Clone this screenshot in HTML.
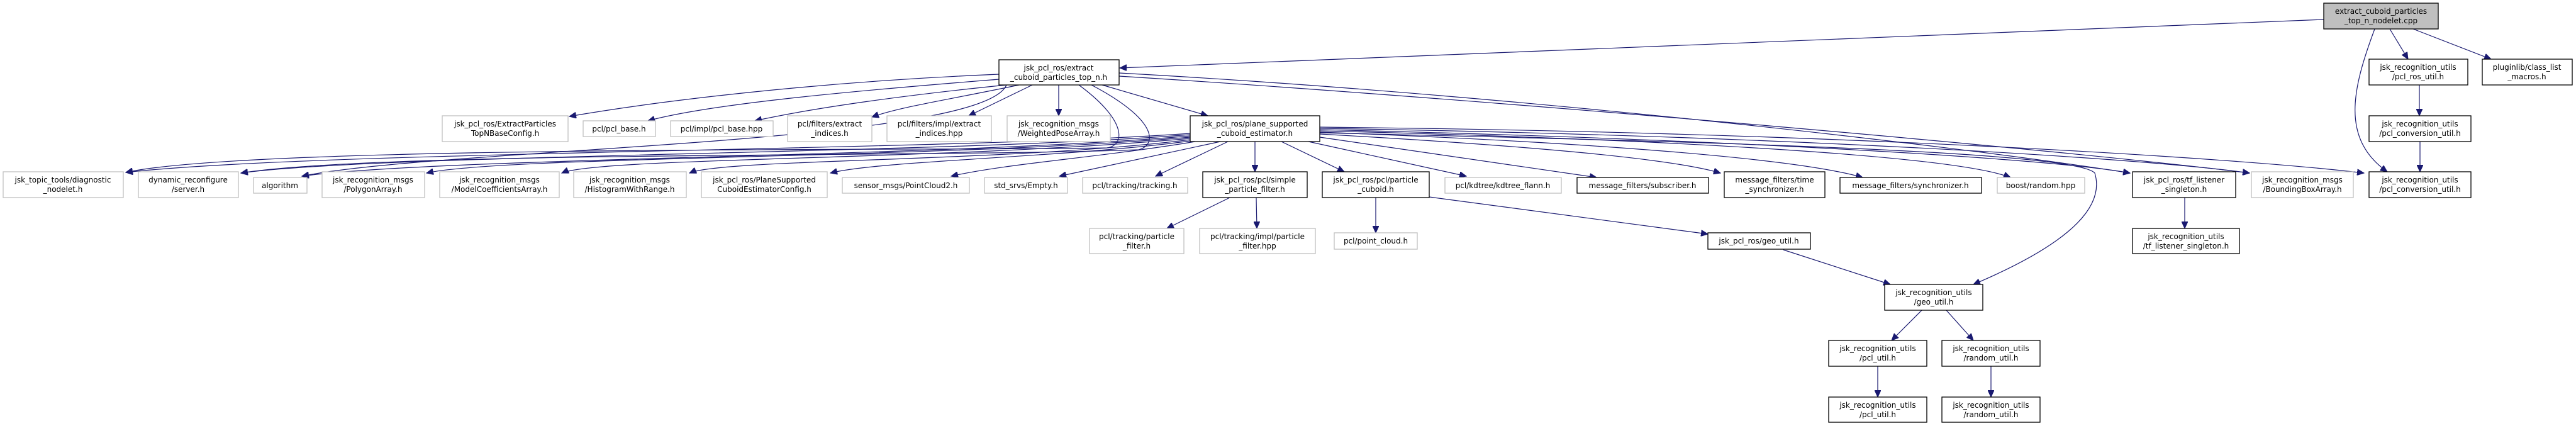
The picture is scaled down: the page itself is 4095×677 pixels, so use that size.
<!DOCTYPE html>
<html><head><meta charset="utf-8"><style>
html,body{margin:0;padding:0;background:#fff;}
svg{display:block;}
text{font-family:"DejaVu Sans","Liberation Sans",sans-serif;font-size:12px;fill:#000;text-anchor:middle;}
.b{fill:#fff;stroke:#000;stroke-width:1.3;}
.g{fill:#fff;stroke:#bfbfbf;stroke-width:1.3;}
.r{fill:#bfbfbf;stroke:#000;stroke-width:1.3;}
path.e{fill:none;stroke:#191970;stroke-width:1.2;}
</style></head><body>
<svg width="4095" height="677" viewBox="0 0 4095 677" xmlns="http://www.w3.org/2000/svg">
<defs><marker id="a" markerUnits="userSpaceOnUse" markerWidth="12" markerHeight="10" refX="11" refY="5" orient="auto"><path d="M0,0 L11,5 L0,10 z" fill="#191970" stroke="#191970"/></marker></defs>
<g marker-end="url(#a)">
<path class="e" d="M3694,31 L1780,108"/>
<path class="e" d="M3799,46 L3828,94"/>
<path class="e" d="M3836,46 L3960,94"/>
<path class="e" d="M3775,46 C3740,140 3720,220 3795,273"/>
<path class="e" d="M1588,118 C1300,130 1050,160 905,185"/>
<path class="e" d="M1588,126 C1350,145 1130,165 1030,192"/>
<path class="e" d="M1600,135 C1450,150 1300,170 1200,192"/>
<path class="e" d="M1620,135 C1500,160 1430,170 1386,186"/>
<path class="e" d="M1641,135 L1540,184"/>
<path class="e" d="M1683,135 L1683,184"/>
<path class="e" d="M1752,135 L1920,184"/>
<path class="e" d="M1715,135 C1790,190 1790,230 1760,235 C1500,240 400,230 200,274"/>
<path class="e" d="M1735,135 C1840,190 1840,230 1810,238 C1500,250 600,240 383,275"/>
<path class="e" d="M1600,135 C1560,230 700,235 480,280"/>
<path class="e" d="M1779,121 C2400,160 3300,240 3576,275"/>
<path class="e" d="M1779,116 C2400,150 3100,230 3386,275"/>
<path class="e" d="M1892,212 C1500,240 500,240 200,274"/>
<path class="e" d="M1892,214 C1500,245 600,245 383,275"/>
<path class="e" d="M1892,216 C1500,250 700,250 480,280"/>
<path class="e" d="M1892,218 C1500,252 800,248 678,275"/>
<path class="e" d="M1892,220 C1500,255 950,250 893,275"/>
<path class="e" d="M1892,222 C1600,258 1150,252 1096,275"/>
<path class="e" d="M1892,224 C1700,250 1400,255 1320,275"/>
<path class="e" d="M1900,225 C1750,250 1600,260 1512,280"/>
<path class="e" d="M1940,225 L1684,280"/>
<path class="e" d="M1952,225 L1837,280"/>
<path class="e" d="M1995,225 L1995,273"/>
<path class="e" d="M2037,225 L2137,273"/>
<path class="e" d="M2080,225 L2331,280"/>
<path class="e" d="M2098,218 L2538,282"/>
<path class="e" d="M2098,213 C2400,230 2650,250 2735,275"/>
<path class="e" d="M2098,210 C2500,225 2850,250 2961,282"/>
<path class="e" d="M2098,208 C2600,220 3100,245 3196,282"/>
<path class="e" d="M2098,206 C2700,220 3250,250 3386,275"/>
<path class="e" d="M2098,204 C2800,215 3400,250 3576,275"/>
<path class="e" d="M2098,202 C2900,210 3550,250 3758,275"/>
<path class="e" d="M2098,211 C2700,225 3300,240 3330,275 C3350,340 3260,400 3137,452"/>
<path class="e" d="M1955,314 L1855,363"/>
<path class="e" d="M1997,314 L1998,363"/>
<path class="e" d="M2187,314 L2187,370"/>
<path class="e" d="M2272,313 L2715,372"/>
<path class="e" d="M2835,397 L3005,452"/>
<path class="e" d="M3473,314 L3473,363"/>
<path class="e" d="M3846,135 L3846,184"/>
<path class="e" d="M3847,225 L3847,273"/>
<path class="e" d="M3055,493 L3007,541"/>
<path class="e" d="M3094,493 L3137,541"/>
<path class="e" d="M2985,582 L2985,631"/>
<path class="e" d="M3165,582 L3165,631"/>
</g>
<rect class="r" x="3694" y="5" width="182" height="41"/><text x="3785" y="22">extract_cuboid_particles</text><text x="3785" y="37">_top_n_nodelet.cpp</text>

<rect class="b" x="1588" y="95" width="191" height="40"/><text x="1683" y="112">jsk_pcl_ros/extract</text><text x="1683" y="127">_cuboid_particles_top_n.h</text>
<rect class="b" x="3766" y="94" width="157" height="41"/><text x="3844" y="111">jsk_recognition_utils</text><text x="3844" y="126">/pcl_ros_util.h</text>
<rect class="b" x="3946" y="94" width="143" height="41"/><text x="4017" y="111">pluginlib/class_list</text><text x="4017" y="126">_macros.h</text>

<rect class="g" x="703" y="184" width="200" height="41"/><text x="803" y="201">jsk_pcl_ros/ExtractParticles</text><text x="803" y="216">TopNBaseConfig.h</text>
<rect class="g" x="927" y="192" width="115" height="25"/><text x="984" y="209">pcl/pcl_base.h</text>
<rect class="g" x="1066" y="192" width="163" height="25"/><text x="1147" y="209">pcl/impl/pcl_base.hpp</text>
<rect class="g" x="1252" y="184" width="134" height="41"/><text x="1319" y="201">pcl/filters/extract</text><text x="1319" y="216">_indices.h</text>
<rect class="g" x="1410" y="184" width="166" height="41"/><text x="1493" y="201">pcl/filters/impl/extract</text><text x="1493" y="216">_indices.hpp</text>
<rect class="g" x="1601" y="184" width="164" height="41"/><text x="1683" y="201">jsk_recognition_msgs</text><text x="1683" y="216">/WeightedPoseArray.h</text>
<rect class="b" x="1892" y="184" width="206" height="41"/><text x="1995" y="201">jsk_pcl_ros/plane_supported</text><text x="1995" y="216">_cuboid_estimator.h</text>
<rect class="b" x="3766" y="184" width="162" height="41"/><text x="3847" y="201">jsk_recognition_utils</text><text x="3847" y="216">/pcl_conversion_util.h</text>

<rect class="g" x="5" y="273" width="191" height="41"/><text x="100" y="290">jsk_topic_tools/diagnostic</text><text x="100" y="305">_nodelet.h</text>
<rect class="g" x="220" y="273" width="159" height="41"/><text x="299" y="290">dynamic_reconfigure</text><text x="299" y="305">/server.h</text>
<rect class="g" x="403" y="282" width="85" height="25"/><text x="445" y="299">algorithm</text>
<rect class="g" x="512" y="273" width="163" height="41"/><text x="593" y="290">jsk_recognition_msgs</text><text x="593" y="305">/PolygonArray.h</text>
<rect class="g" x="699" y="273" width="190" height="41"/><text x="794" y="290">jsk_recognition_msgs</text><text x="794" y="305">/ModelCoefficientsArray.h</text>
<rect class="g" x="912" y="273" width="179" height="41"/><text x="1001" y="290">jsk_recognition_msgs</text><text x="1001" y="305">/HistogramWithRange.h</text>
<rect class="g" x="1115" y="273" width="200" height="41"/><text x="1215" y="290">jsk_pcl_ros/PlaneSupported</text><text x="1215" y="305">CuboidEstimatorConfig.h</text>
<rect class="g" x="1339" y="282" width="202" height="25"/><text x="1440" y="299">sensor_msgs/PointCloud2.h</text>
<rect class="g" x="1565" y="282" width="132" height="25"/><text x="1631" y="299">std_srvs/Empty.h</text>
<rect class="g" x="1721" y="282" width="167" height="25"/><text x="1804" y="299">pcl/tracking/tracking.h</text>
<rect class="b" x="1912" y="273" width="166" height="41"/><text x="1995" y="290">jsk_pcl_ros/pcl/simple</text><text x="1995" y="305">_particle_filter.h</text>
<rect class="b" x="2102" y="273" width="170" height="41"/><text x="2187" y="290">jsk_pcl_ros/pcl/particle</text><text x="2187" y="305">_cuboid.h</text>
<rect class="g" x="2297" y="282" width="185" height="25"/><text x="2389" y="299">pcl/kdtree/kdtree_flann.h</text>
<rect class="b" x="2507" y="282" width="209" height="25"/><text x="2611" y="299">message_filters/subscriber.h</text>
<rect class="b" x="2741" y="273" width="160" height="41"/><text x="2821" y="290">message_filters/time</text><text x="2821" y="305">_synchronizer.h</text>
<rect class="b" x="2925" y="282" width="225" height="25"/><text x="3037" y="299">message_filters/synchronizer.h</text>
<rect class="g" x="3175" y="282" width="139" height="25"/><text x="3244" y="299">boost/random.hpp</text>
<rect class="b" x="3390" y="273" width="164" height="41"/><text x="3472" y="290">jsk_pcl_ros/tf_listener</text><text x="3472" y="305">_singleton.h</text>
<rect class="g" x="3579" y="273" width="162" height="41"/><text x="3660" y="290">jsk_recognition_msgs</text><text x="3660" y="305">/BoundingBoxArray.h</text>
<rect class="b" x="3766" y="273" width="162" height="41"/><text x="3847" y="290">jsk_recognition_utils</text><text x="3847" y="305">/pcl_conversion_util.h</text>

<rect class="g" x="1732" y="363" width="150" height="40"/><text x="1807" y="380">pcl/tracking/particle</text><text x="1807" y="395">_filter.h</text>
<rect class="g" x="1907" y="363" width="184" height="40"/><text x="1999" y="380">pcl/tracking/impl/particle</text><text x="1999" y="395">_filter.hpp</text>
<rect class="g" x="2121" y="370" width="132" height="26"/><text x="2187" y="387">pcl/point_cloud.h</text>
<rect class="b" x="2715" y="370" width="163" height="26"/><text x="2796" y="387">jsk_pcl_ros/geo_util.h</text>
<rect class="b" x="3390" y="363" width="170" height="40"/><text x="3475" y="380">jsk_recognition_utils</text><text x="3475" y="395">/tf_listener_singleton.h</text>

<rect class="b" x="2996" y="452" width="156" height="41"/><text x="3074" y="469">jsk_recognition_utils</text><text x="3074" y="484">/geo_util.h</text>
<rect class="b" x="2907" y="541" width="156" height="41"/><text x="2985" y="558">jsk_recognition_utils</text><text x="2985" y="573">/pcl_util.h</text>
<rect class="b" x="3087" y="541" width="156" height="41"/><text x="3165" y="558">jsk_recognition_utils</text><text x="3165" y="573">/random_util.h</text>
<rect class="b" x="2907" y="631" width="156" height="40"/><text x="2985" y="648">jsk_recognition_utils</text><text x="2985" y="663">/pcl_util.h</text>
<rect class="b" x="3087" y="631" width="156" height="40"/><text x="3165" y="648">jsk_recognition_utils</text><text x="3165" y="663">/random_util.h</text>
</svg>
</body></html>
